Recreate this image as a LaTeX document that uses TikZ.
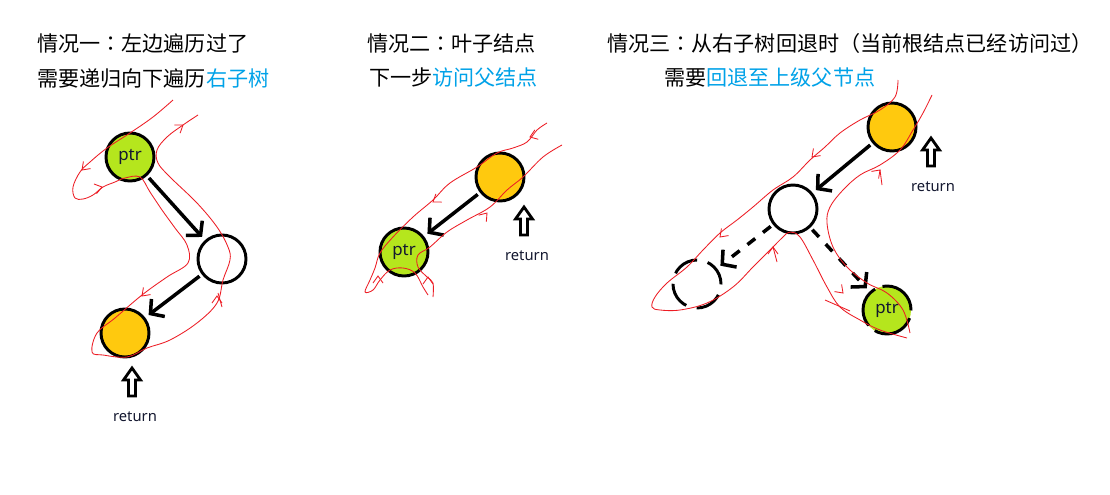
\documentclass[tikz,border=0pt]{standalone}
\usepackage{fontspec}
\setmainfont{Noto Sans CJK SC}
\newfontfamily\punctfont{Noto Sans CJK TC}
\newfontfamily\latinfont{Noto Sans}
\usepackage{tikz}
\usetikzlibrary{arrows.meta}
\definecolor{leafcolor}{HTML}{FFC90E}
\definecolor{ptrcolor}{HTML}{B5E61D}
\definecolor{hintcolor}{HTML}{00A2E8}
\definecolor{tracecolor}{HTML}{ED1C24}
\definecolor{labelcolor}{HTML}{141830}
\newcommand{\chev}[3]{\draw[trace, shift={(#1,#2)}, rotate=#3] (-7,-5) -- (0,0) -- (-7,5);}
\newcommand{\pc}[1]{{\punctfont #1}}

\begin{document}
\begin{tikzpicture}[
    x=0.025cm, y=-0.025cm,
    tnode/.style={circle, draw, line width=2.1pt, minimum size=1.2cm, inner sep=0, font=\latinfont\fontsize{12}{14}\selectfont, text=labelcolor},
    leaf/.style={tnode, fill=leafcolor},
    cur/.style={tnode, fill=ptrcolor},
    gone/.style={tnode, dash pattern=on 19pt off 7.7pt},
    move/.style={-{Straight Barb[length=0.24cm, width=0.55cm]}, line width=2.5pt, shorten <=2pt, shorten >=3pt},
    back/.style={move, dash pattern=on 7pt off 7pt},
    title/.style={anchor=west, inner sep=0, font=\fontsize{15}{18}\selectfont},
    retlabel/.style={font=\latinfont\fontsize{10.5}{12}\selectfont, text=labelcolor},
    trace/.style={draw=tracecolor, line width=0.6pt},
    hand/.style={trace, line join=round},
    uparrow/.pic={\draw[line width=2pt, line join=miter] (0,0) -- (8.5,12) -- (3.5,12) -- (3.5,28) -- (-3.5,28) -- (-3.5,12) -- (-8.5,12) -- cycle;}
]
    \fill[white] (0,0) rectangle (1110,494);
    \useasboundingbox (0,0) rectangle (1110,494);

    % Titles
    \node[title] (t1a) at (37,43) {情况一\pc{：}左边遍历过了};
    \node[title] (t1b) at (37,78) {需要递归向下遍历\textcolor{hintcolor}{右子树}};
    \node[title] (t2a) at (367,43) {情况二\pc{：}叶子结点};
    \node[title] (t2b) at (369,78) {下一步\textcolor{hintcolor}{访问父结点}};
    \node[title] (t3a) at (607,43) {情况三\pc{：}从右子树回退时\pc{（}当前根结点已经访问过\pc{）}};
    \node[title] (t3b) at (664,78) {需要\textcolor{hintcolor}{回退至上级父节点}};

    % Case 1
    \node[cur] (ptrA) at (130,157) {ptr};
    \node[tnode] (midA) at (222,259) {};
    \node[leaf] (leafA) at (125,333) {};
    \draw[move] (ptrA) -- (midA);
    \draw[move] (midA) -- (leafA);
    \pic at (132,368) {uparrow};
    \node[retlabel] (retA) at (135,417) {return};

    % Case 2
    \node[leaf] (leafB) at (500,177) {};
    \node[cur] (ptrB) at (404,252) {ptr};
    \draw[move] (leafB) -- (ptrB);
    \pic at (524,207) {uparrow};
    \node[retlabel] (retB) at (527,256) {return};

    % Case 3
    \node[leaf] (leafC) at (892,127) {};
    \node[tnode] (rootC) at (793,209) {};
    \node[gone] (leftC) at (697,284) {};
    \node[cur, dash pattern=on 30pt off 5.6pt] (ptrC) at (887,310) {ptr};
    \draw[move] (leafC) -- (rootC);
    \draw[back] (rootC) -- (leftC);
    \draw[back] (rootC) -- (ptrC);
    \pic at (931,138) {uparrow};
    \node[retlabel] (retC) at (933,187) {return};

    % Traces, case 1
    \draw[hand] plot[smooth, tension=0.6] coordinates {(173,100) (153,117) (130,133) (107,148) (90,162) (80,172) (73,187) (75,198) (83,199) (93,195) (103,187) (115,182) (125,178) (140,177) (150,192) (162,210) (175,228) (187,245) (188,263) (167,277) (142,295) (115,318) (97,333) (92,352) (103,355) (127,357) (147,348) (170,340) (197,323) (217,303) (223,280) (230,260) (228,247) (217,227) (197,203) (170,177) (158,163) (157,150) (167,137) (183,125) (198,115)};
    \draw[trace] (218,293) -- (222,307);
    \chev{82}{170}{225} \chev{102}{187}{15} \chev{183}{125}{35} \chev{142}{296}{225} \chev{217}{296}{90}

    % Traces, case 2
    \draw[hand] plot[smooth, tension=0.6] coordinates {(547,123) (537,130) (527,142) (513,148) (497,153) (477,167) (450,183) (433,200) (413,217) (393,237) (380,253) (375,268) (370,280) (365,292) (373,290) (380,280) (390,270) (403,268) (415,273) (423,287) (428,295)};
    \draw[hand] plot[smooth, tension=0.6] coordinates {(562,145) (543,157) (523,177) (507,190) (490,207) (467,220) (447,232) (430,247) (418,255) (418,267) (427,277) (433,283) (433,297)};
    \chev{530}{137}{200} \chev{433}{202}{215} \chev{487}{213}{50} \chev{378}{276}{90} \chev{428}{277}{90}

    % Traces, case 3
    \draw[hand] plot[smooth, tension=0.6] coordinates {(898,80) (895,97) (880,110) (860,120) (840,133) (825,147) (810,160) (793,177) (773,190) (753,207) (737,220) (720,233) (703,250) (687,267) (667,283) (655,297) (652,307) (660,310) (680,310) (707,303) (733,287) (753,267) (770,250) (783,237) (790,232) (800,237) (813,260) (827,287) (840,307) (860,320) (880,330) (907,338)};
    \draw[hand] plot[smooth, tension=0.6] coordinates {(932,95) (923,113) (913,130) (900,150) (880,165) (860,175) (843,190) (830,207) (827,223) (833,247) (847,267) (867,283) (887,293) (903,310) (910,333)};
    \draw[trace] (825,300) -- (850,311);
    \draw[trace] (880,170) -- (882,185);
    \draw[trace] (773,247) -- (777,262);
    \chev{812}{157}{225} \chev{880}{170}{45} \chev{720}{237}{225} \chev{773}{247}{90} \chev{843}{293}{315}
\end{tikzpicture}
\end{document}
